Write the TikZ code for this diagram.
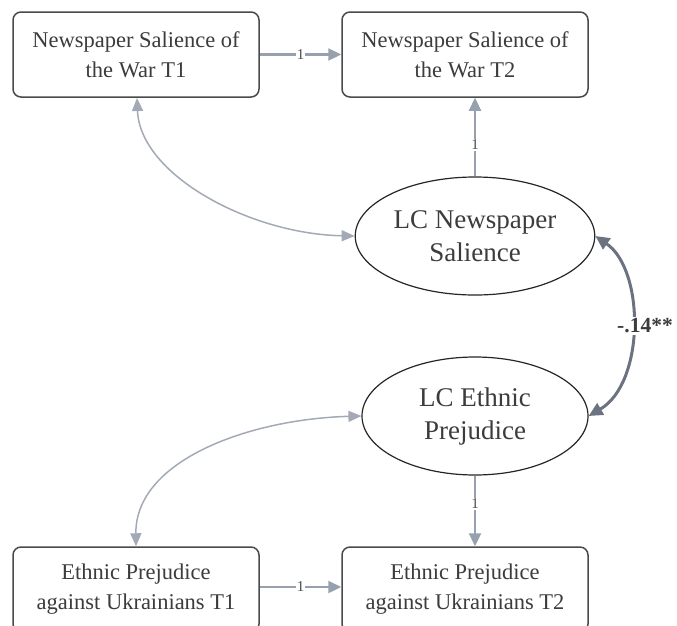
\documentclass[tikz,border=0pt]{standalone}
\usepackage{fontspec}
\setmainfont{Liberation Serif}
\usetikzlibrary{arrows.meta,shapes.geometric}
\definecolor{txt}{HTML}{3C3C3C}
\definecolor{frame}{HTML}{4A4A4A}
\definecolor{lightarrow}{HTML}{A3AAB6}
\definecolor{midarrow}{HTML}{97A0AD}
\definecolor{darkarrow}{HTML}{6B7380}
\tikzset{
  obsbox/.style={draw=frame, line width=1.5pt, rounded corners=8pt, fill=white,
    minimum width=246pt, minimum height=85pt, align=center, text=txt,
    font=\fontsize{22.5}{30}\selectfont},
  latent/.style={draw=black!85, line width=1.2pt, ellipse, fill=white,
    minimum width=226pt, minimum height=118pt, align=center, text=txt,
    font=\fontsize{27}{33}\selectfont},
  load/.style={draw=midarrow, line width=2.3pt, -{Triangle[length=13pt,width=12pt]}},
  covar/.style={draw=lightarrow, line width=1.5pt,
    {Triangle[length=13pt,width=11pt]}-{Triangle[length=13pt,width=11pt]}},
  corr/.style={draw=darkarrow, line width=3pt,
    {Triangle[length=14pt,width=13pt]}-{Triangle[length=14pt,width=13pt]}},
  onelabel/.style={fill=white, text=black!70, inner sep=1pt,
    font=\fontsize{15}{15}\selectfont},
}
\begin{document}
\begin{tikzpicture}[x=1pt,y=-1pt]
\useasboundingbox (0,0) rectangle (677,625);
\clip (0,0) rectangle (677,625);

% observed indicators
\node[obsbox] (nw1) at (136,54.5) {Newspaper Salience of\\the War T1};
\node[obsbox] (nw2) at (465,54.5) {Newspaper Salience of\\the War T2};
\node[obsbox] (ep1) at (136,589.5) {Ethnic Prejudice\\against Ukrainians T1};
\node[obsbox] (ep2) at (465,589.5) {Ethnic Prejudice\\against Ukrainians T2};

% latent change factors
\node[latent] (lcn) at (475,236) {LC Newspaper\\Salience};
\node[latent] (lce) at (475,416) {LC Ethnic\\Prejudice};

% fixed paths
\draw[load] (nw1.east) -- node[onelabel] {1} (nw2.west);
\draw[load] (ep1.east |- 0,587) -- node[onelabel] {1} (ep2.west |- 0,587);
\draw[load] (lcn.north) -- node[onelabel, pos=0.4] {1} (nw2.south -| lcn.north);
\draw[load] (lce.south) -- node[onelabel, pos=0.4] {1} (ep2.north -| lce.south);

% covariances with the T1 indicators
\draw[covar] (137,98) .. controls (140,175) and (250,234) .. (lcn.west);
\draw[covar] (lce.west) .. controls (250,419) and (135,460) .. (ep1.north -| 136,0);

% correlation between the latent changes
\draw[corr] (lcn.east) .. controls (645,270) and (645,383) .. (lce.east);
\node[fill=white, inner sep=2pt, text=txt, font=\bfseries\fontsize{21.5}{21.5}\selectfont]
  (r) at (645,326) {-.14**};
\end{tikzpicture}
\end{document}
